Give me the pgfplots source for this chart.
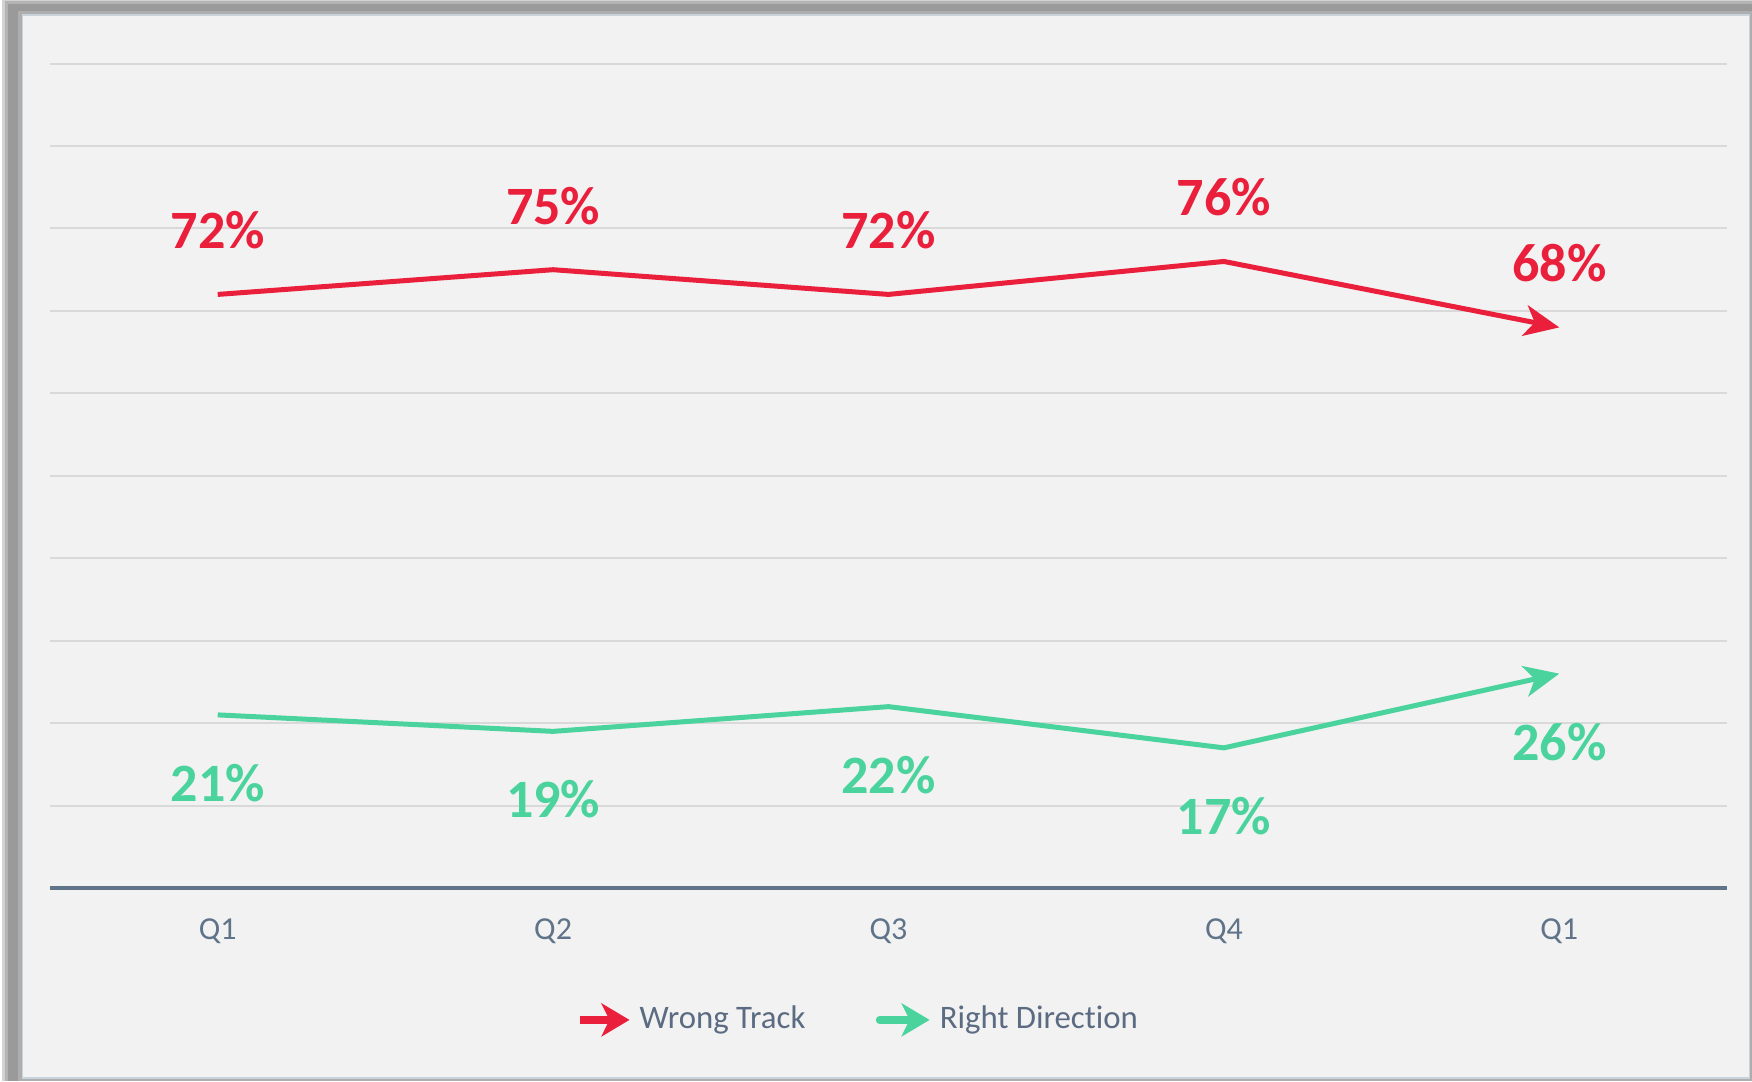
\documentclass[border=0pt]{standalone}
\usepackage{fontspec}
\setmainfont{Carlito}[Ligatures=CommonOff]
\usepackage{xcolor}
\usepackage{pgfplots}
\pgfplotsset{compat=1.18}
\usetikzlibrary{arrows.meta}

\definecolor{wrongc}{HTML}{E91F3B}
\definecolor{rightc}{HTML}{4BD39E}
\definecolor{axisc}{HTML}{5F7389}
\definecolor{textc}{HTML}{5A6B82}
\definecolor{gridc}{HTML}{D9D9D9}
\definecolor{panelc}{HTML}{F2F2F2}
\definecolor{shadowc}{HTML}{9A9A9A}
\definecolor{edgec}{HTML}{C9D3DC}

\begin{document}
\begin{tikzpicture}
% page frame, shadow on left/top, panel
\useasboundingbox (0pt,0pt) rectangle (438pt,270.25pt);
\fill[white] (0pt,0pt) rectangle (438pt,270.25pt);
\fill[shadowc!45] (0.6pt,0pt) rectangle (438pt,270.25pt);
\fill[shadowc!75] (1.2pt,0pt) rectangle (438pt,269.9pt);
\fill[shadowc] (2pt,0pt) rectangle (438pt,269.3pt);
\fill[shadowc!80] (4.4pt,0pt) rectangle (438pt,267.6pt);
\fill[panelc,draw=edgec,line width=0.4pt] (5.6pt,0.75pt) rectangle (437.4pt,266.5pt);

\begin{axis}[
    at={(12.5pt,48.25pt)}, anchor=south west,
    scale only axis,
    width=419.25pt, height=206.1pt,
    xmin=-0.5, xmax=4.5,
    ymin=0, ymax=100,
    xtick={0,1,2,3,4},
    xticklabels={Q1,Q2,Q3,Q4,Q1},
    ytick={10,20,...,100},
    yticklabels={},
    major tick length=0pt,
    ymajorgrids,
    grid style={draw=gridc, line width=0.5pt},
    axis x line*=bottom,
    axis y line*=left,
    y axis line style={draw=none},
    x axis line style={draw=axisc, line width=1pt, -},
    xticklabel style={font=\fontsize{8}{9}\selectfont, text=axisc, yshift=-4.1pt},
    /pgf/number format/assume math mode=true,
    point meta=y,
    legend columns=2,
    legend style={at={(0.483,-0.160)}, anchor=center, draw=none, fill=none,
        font=\fontsize{8.2}{9}\selectfont, text=textc,
        nodes={inner xsep=1.6pt},
        /tikz/every even column/.append style={column sep=16pt},
        inner sep=0pt},
    legend cell align=left,
]
\addplot[wrongc, line width=1.25pt, line join=round,
    -{Stealth[length=8.75pt,width=7.75pt,inset=2.5pt]},
    nodes near coords={\pgfmathprintnumber{\pgfplotspointmeta}\%},
    every node near coord/.style={font=\bfseries\fontsize{13.5}{15}\selectfont, text=wrongc, anchor=center, yshift=16pt},
    legend image code/.code={\draw[wrongc, line width=1.9pt, -{Stealth[length=7pt,width=8.25pt,inset=2pt]}] (0pt,0pt) -- (12.5pt,0pt);}
] coordinates {(0,72) (1,75) (2,72) (3,76) (4,68)};
\addlegendentry{Wrong Track}
\addplot[rightc, line width=1.25pt, line join=round,
    -{Stealth[length=8.75pt,width=7.75pt,inset=2.5pt]},
    nodes near coords={\pgfmathprintnumber{\pgfplotspointmeta}\%},
    every node near coord/.style={font=\bfseries\fontsize{13.5}{15}\selectfont, text=rightc, anchor=center, yshift=-17pt},
    legend image code/.code={\draw[rightc, line width=1.9pt, line cap=round, -{Stealth[length=7pt,width=8.25pt,inset=2pt]}] (0pt,0pt) -- (12.5pt,0pt);}
] coordinates {(0,21) (1,19) (2,22) (3,17) (4,26)};
\addlegendentry{Right Direction}
\end{axis}
\end{tikzpicture}
\end{document}
